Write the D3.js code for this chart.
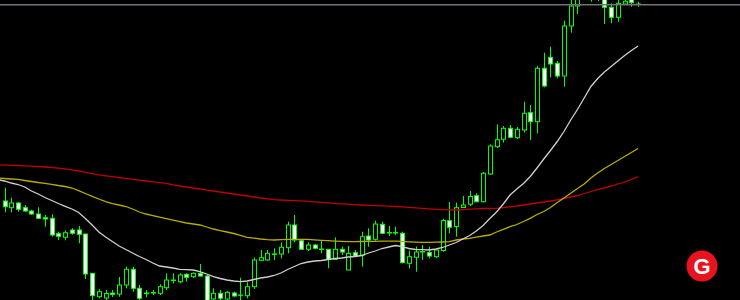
<!DOCTYPE html>
<html>
<head>
<meta charset="utf-8">
<script src="https://cdn.jsdelivr.net/npm/d3@7"></script>
<style>
  body { margin: 0; background: #000; overflow: hidden; }
</style>
</head>
<body>
<script>
// candle prices (points), oldest first
var opens = [99,92.3,97,92.3,89,86,82.3,81.7,66.3,62.7,
  70,70,66,26.7,3.3,2,7,6,15,30.7,
  11.7,7,7.5,6.7,12.3,20,18.3,25.7,23.3,26.7,
  24,1,6.7,1,7,5,4.3,13.3,39.7,40,
  46,46,52.3,75,59.3,50.7,55,51,50.7,40.7,
  50.7,30,47.3,45,64,60.7,75.7,67.5,67.5,66.7,
  36.7,42.7,48.5,47.5,43.3,49.5,79.3,73.5,92.5,95.8,
  104.3,98.3,126,153.3,160.7,171.7,162.3,170,187.3,178.3,
  231.7,242.7,236.7,224,274,294,308,306,304,304,
  292.7,282.7,296,301,296];
var highs = [112.3,102.3,98,95,90.3,92.7,85,85.7,68.3,69.7,
  71.7,74,66,26.7,10.7,10,10,23,33.3,33.3,
  15,10,10,15.7,26.7,26.7,26.7,26.7,27.5,36,
  25,11.7,10,9,8.3,22.3,17.7,42.3,50,50,
  51.7,57.7,78.3,85,60,57.7,56,60,50.7,62.7,
  53.3,54,50,68.3,71.7,79.3,78.3,74,73.3,68.3,
  49.5,53.5,55,53.3,50,81.3,98,97.5,104,109,
  106.7,128,155.7,175.7,174,175,173,198.3,195,234,
  247.3,253.3,239,279.3,302,312,322,320,315,310,
  296.7,301,302,303,298.3];
var lows = [87.7,87.7,88.3,88.3,85,81.3,73.3,63.3,60,59.7,
  65.3,56.7,21,0,1.7,0,3,3.3,11.7,8.3,
  0,2.7,5,5,10,16.7,16.7,18.3,22,23.3,
  -10,-2,0,0,3.3,0,1.7,11,39,39,
  40,41.7,46.7,57.7,50,49,51,46.7,31.7,40,
  45,29.5,43.3,33.3,53.3,59.3,66,64,65,36.7,
  31.5,28.3,40,41.7,42,48.3,66.7,63.3,92.3,94,
  97.7,97.5,125,152,157.5,161.7,161,167.5,160,166.7,
  212.7,222.7,221.7,213.3,267.3,286,302,298.3,299,276,
  276.7,278.3,295,293.3,293.3];
var closes = [93.3,97,90.7,89,86,81.7,81,65,63.7,67.3,
  66.7,65.7,26,4.3,8.3,6.5,5.5,15,30.7,11.7,
  1.7,6.3,7,13.3,20,19.5,25,22.7,26.7,24,
  -5,6.7,1.7,7.7,4,4.7,13.3,40,42.3,46.7,
  45.5,52.7,75,60,50.7,55,51.7,50.5,40.7,50.7,
  48,46.7,44,63.3,60,76,66.7,67,67,37.3,
  43.3,48,48,44,50,79.5,72.7,92.3,95,103.5,
  98.3,126.7,154,160.3,171.7,162.7,170.7,186.7,178.3,231.7,
  214,236,224,274,294,306,316,312,310,292.7,
  282.7,296.7,298.7,297.3,295.8];

// moving averages, one value earlier than the first visible candle
var maFast = [120.5,119,117,115.5,113,109,106,102.5,99.5,96.5,93.7,91,87.5,81.5,75,68,63,58.5,54,50.5,
  47,43.5,40.5,37,34,33,32,30.7,30.3,30,28.3,26,23.3,21.5,20,19,18.3,19,20.5,22,
  23,24.5,27,30.5,33.5,36.5,38,39,39.5,40.5,41.5,42,43,43.5,44.5,47,49,51.5,53,54.5,
  53.3,51.5,50.5,50.3,50,51,52.5,55,57.5,61,64.5,69,74.5,81.5,88,96,105,111,116.5,123.5,
  132,141,149.5,158.5,168.5,180,190.5,202,213.5,221.5,228,233.5,239,244.5,249.5,254];
var maMid = [122,121.5,121,120.6,119.5,118.5,117.5,116.7,115.7,114.5,113.5,112,109.3,106.5,103.7,101,98.3,96.3,95,93.5,
  91,88,86,84.4,82.8,81.3,79.8,78.4,77,76,75,73,71,69.4,68,66.5,64.7,62.7,61.8,61,
  60.4,60,60.3,60.6,60.7,60.7,60.6,60.2,59.7,59.3,58.9,58.6,58.3,58.4,58.5,58.6,58.7,58.8,58.9,58.9,
  58.6,58.2,57.9,57.7,57.7,57.8,58,58.3,60,61,61.7,62.8,64,65,68,70.7,73.3,75.5,78.5,81.7,
  85.5,88.5,92.5,97.5,102,106.7,111.5,116,122,127,131.5,135.5,139.5,143.5,147.5,151.5];
var maSlow = [135.1,134.9,134.7,134.5,134.2,133.9,133.5,133,132.5,131.8,131.1,130.1,129,127.7,126.4,125.2,124.2,123.3,122.5,121.6,
  120.7,119.9,119,118.2,117.4,116.7,115.2,114,113,112,111,109.9,109,108,107,106,105,104,103,102,
  101.2,100.4,100,99.7,99.4,99.1,98.6,98.1,97.7,97.2,96.7,96.2,95.8,95.4,95,94.7,94.4,94.1,93.8,93.5,
  93.2,92.7,92.2,91.6,91.1,90.7,90.4,90.2,90,90.4,90.8,91.2,91.5,91.7,91.7,92.3,93.2,94,95,96,
  97,98,99,100.2,101.5,103,104.5,106.5,108.5,110.4,112.2,114,116,118,120.5,123.3];
var levelPrice = 295.3;

var W = 740, H = 300;

var svg = d3.select("body").append("svg")
  .attr("width", W).attr("height", H)
  .style("display", "block")
  .style("background", "#000");

var x = d3.scaleLinear().domain([0, opens.length - 1]).range([4.5, 638.1]);
var y = d3.scaleLinear().domain([0, 300]).range([H, 0]);

var candles = opens.map(function (o, i) {
  return {i: i, o: o, h: highs[i], l: lows[i], c: closes[i]};
});

var g = svg.append("g");

// wicks
g.selectAll("line.wick").data(candles).enter().append("line")
  .attr("class", "wick")
  .attr("x1", function (d) { return Math.round(x(d.i)) + 0.5; })
  .attr("x2", function (d) { return Math.round(x(d.i)) + 0.5; })
  .attr("y1", function (d) { return y(d.h); })
  .attr("y2", function (d) { return y(d.l); })
  .attr("stroke", "#00ff00")
  .attr("stroke-width", 1);

// bodies: up = black, down = white
g.selectAll("rect.body").data(candles).enter().append("rect")
  .attr("class", "body")
  .attr("x", function (d) { return Math.round(x(d.i)) - 1.5; })
  .attr("width", 4)
  .attr("y", function (d) { return y(Math.max(d.o, d.c)); })
  .attr("height", function (d) { return Math.max(0.01, Math.abs(y(d.o) - y(d.c))); })
  .attr("fill", function (d) { return d.c >= d.o ? "#000" : "#fff"; })
  .attr("stroke", "#00ff00")
  .attr("stroke-width", 1);

// moving averages
var line = d3.line()
  .x(function (d, i) { return x(i - 1); })
  .y(function (d) { return y(d); });

[[maSlow, "#c00000"], [maMid, "#b8ad00"], [maFast, "#cfcfcf"]].forEach(function (m) {
  svg.append("path")
    .datum(m[0])
    .attr("d", line)
    .attr("fill", "none")
    .attr("stroke", m[1])
    .attr("stroke-width", 1.3);
});

// horizontal level
svg.append("line")
  .attr("x1", 0).attr("x2", W)
  .attr("y1", y(levelPrice)).attr("y2", y(levelPrice))
  .attr("stroke", "#70737a")
  .attr("stroke-width", 1.5);

// logo
var logo = svg.append("g").attr("transform", "translate(702,266)");
logo.append("circle").attr("r", 15.5).attr("fill", "#e8131f");
logo.append("text")
  .attr("text-anchor", "middle")
  .attr("dy", "0.36em")
  .attr("fill", "#fff")
  .style("font-family", "'Liberation Sans', Arial, sans-serif")
  .style("font-weight", "900")
  .style("font-size", "22px")
  .text("G");
</script>
</body>
</html>
